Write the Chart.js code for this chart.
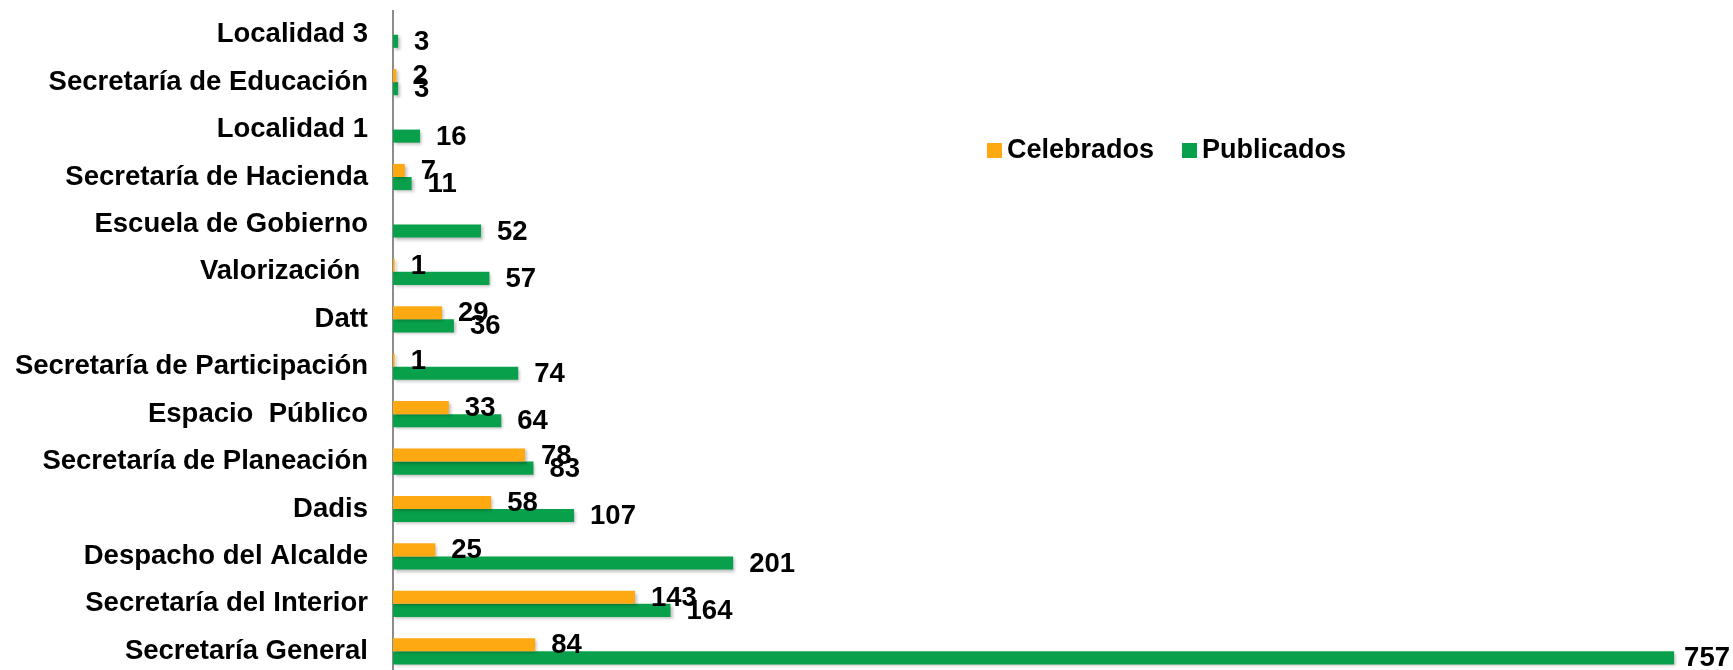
<!DOCTYPE html>
<html lang="es">
<head>
    <meta charset="UTF-8">
    <title>Celebrados vs Publicados</title>
    <script src="https://cdn.jsdelivr.net/npm/chart.js"></script>
    <style>
        html, body { margin: 0; padding: 0; background: #fff; overflow: hidden; }
        #grafico { display: block; }
    </style>
</head>
<body>
    <canvas id="grafico" width="1733" height="675"></canvas>

    <script>
        // Dependencias (de arriba hacia abajo)
        const dependencias = [
            'Localidad 3', 'Secretaría de Educación', 'Localidad 1', 'Secretaría de Hacienda',
            'Escuela de Gobierno', 'Valorización ', 'Datt', 'Secretaría de Participación',
            'Espacio  Público', 'Secretaría de Planeación', 'Dadis', 'Despacho del Alcalde',
            'Secretaría del Interior', 'Secretaría General'
        ];
        const celebrados = [null, 2, null, 7, null, 1, 29, 1, 33, 78, 58, 25, 143, 84];
        const publicados = [3, 3, 16, 11, 52, 57, 36, 74, 64, 83, 107, 201, 164, 757];

        const colorCelebrados = '#FFA912';
        const colorPublicados = '#08A04B';
        const fuente = '"Liberation Sans", Arial, sans-serif';

        // Sombra suave de las barras
        const sombraBarras = {
            id: 'sombraBarras',
            beforeDatasetsDraw(chart) {
                const ctx = chart.ctx;
                ctx.save();
                ctx.shadowColor = 'rgba(0,0,0,0.25)';
                ctx.shadowOffsetX = 2;
                ctx.shadowOffsetY = 2;
                ctx.shadowBlur = 3;
            },
            afterDatasetsDraw(chart) {
                chart.ctx.restore();
            }
        };

        // Etiquetas de valor al final de cada barra
        const etiquetas = {
            id: 'etiquetas',
            afterDatasetsDraw(chart) {
                const ctx = chart.ctx;
                ctx.save();
                ctx.font = 'bold 27.5px ' + fuente;
                ctx.fillStyle = '#000';
                ctx.textBaseline = 'middle';
                ctx.textAlign = 'left';
                chart.data.datasets.forEach((ds, i) => {
                    chart.getDatasetMeta(i).data.forEach((bar, j) => {
                        const v = ds.data[j];
                        if (v === null || v === undefined) return;
                        const txt = String(v);
                        let x = bar.x + 16;
                        const w = ctx.measureText(txt).width;
                        if (x + w > chart.width - 3) x = chart.width - 3 - w;
                        ctx.fillText(txt, x, bar.y + 1);
                    });
                });
                ctx.restore();
            }
        };

        // Leyenda dentro del área del gráfico
        const leyenda = {
            id: 'leyenda',
            afterDraw(chart) {
                const ctx = chart.ctx;
                ctx.save();
                ctx.font = 'bold 27px ' + fuente;
                ctx.textBaseline = 'middle';
                let x = 987;
                const y = 150;
                chart.data.datasets.forEach(ds => {
                    ctx.fillStyle = ds.backgroundColor;
                    ctx.fillRect(x, y - 7, 15, 15);
                    ctx.fillStyle = '#000';
                    ctx.fillText(ds.label, x + 20, y + 1);
                    x += 195;
                });
                ctx.restore();
            }
        };

        const ctx = document.getElementById('grafico').getContext('2d');
        new Chart(ctx, {
            type: 'bar',
            data: {
                labels: dependencias,
                datasets: [
                    { label: 'Celebrados', data: celebrados, backgroundColor: colorCelebrados },
                    { label: 'Publicados', data: publicados, backgroundColor: colorPublicados }
                ]
            },
            options: {
                indexAxis: 'y',
                responsive: false,
                animation: false,
                categoryPercentage: 0.552,
                barPercentage: 1.0,
                layout: { padding: { top: 11, right: 20, bottom: 0, left: 0 } },
                plugins: {
                    legend: { display: false },
                    tooltip: { enabled: false }
                },
                scales: {
                    x: {
                        display: false,
                        min: 0,
                        max: 780
                    },
                    y: {
                        grid: { display: false, drawTicks: false },
                        border: { display: true, color: '#8c8c8c', width: 2 },
                        ticks: {
                            padding: 25,
                            color: '#000',
                            font: { family: fuente, size: 27.5, weight: 'bold' }
                        },
                        afterFit(scale) {
                            scale.width = 393;
                            scale.paddingTop = 0;
                            scale.paddingBottom = 0;
                        }
                    }
                }
            },
            plugins: [sombraBarras, etiquetas, leyenda]
        });
    </script>
</body>
</html>
